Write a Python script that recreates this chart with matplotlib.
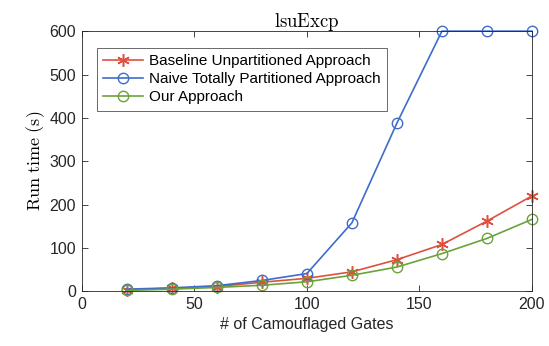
import matplotlib
matplotlib.use("Agg")
import matplotlib.pyplot as plt

gates = [20, 40, 60, 80, 100, 120, 140, 160, 180, 200]
baseline = [4, 7, 11, 21, 30, 45, 73, 108, 162, 220]
naive = [5, 8, 13, 25, 41, 158, 388, 600, 600, 600]
ours = [2, 5, 9, 14, 22, 37, 56, 87, 122, 166]

series_names = ["Baseline Unpartitioned Approach",
                "Naive Totally Partitioned Approach",
                "Our Approach"]

plt.rcParams['font.family'] = ['Liberation Sans', 'DejaVu Sans']
plt.rcParams['mathtext.fontset'] = 'cm'

fig = plt.figure(figsize=(5.49, 3.46), dpi=100)
ax = fig.add_axes([0.149, 0.158, 0.820, 0.752])

red = '#DE5141'
blue = '#3E6CCB'
green = '#6CA23A'

ax.plot(gates, baseline, color=red, marker=(6, 2, 0), markersize=9, linewidth=1.2,
        markeredgewidth=1.1, label=series_names[0], clip_on=False)
ax.plot(gates, naive, color=blue, marker='o', markersize=7.5, linewidth=1.2,
        markerfacecolor='none', markeredgewidth=1.0, label=series_names[1], clip_on=False)
ax.plot(gates, ours, color=green, marker='o', markersize=7.5, linewidth=1.2,
        markerfacecolor='none', markeredgewidth=1.0, label=series_names[2], clip_on=False)

ax.set_xlim(0, 200)
ax.set_ylim(0, 600)
ax.set_xticks([0, 50, 100, 150, 200])
ax.set_yticks([0, 100, 200, 300, 400, 500, 600])
ax.tick_params(direction='in', top=True, right=True, labelsize=11.5, length=4,
               width=0.6, colors='#262626', pad=4)
for s in ax.spines.values():
    s.set_linewidth(0.6)
    s.set_color('#262626')

ax.set_title(r'$\mathrm{lsuExcp}$', fontsize=13.5, pad=3)
ax.set_ylabel(r'$\mathrm{Run\ time\ (s)}$', fontsize=13, labelpad=2)
ax.set_xlabel('# of Camouflaged Gates', fontsize=11.5, color='#262626', labelpad=4)

leg = ax.legend(loc='upper left', bbox_to_anchor=(0.033, 0.935), fontsize=11,
                frameon=True, fancybox=False, edgecolor='#262626',
                borderpad=0.42, handlelength=2.6, handletextpad=0.4,
                labelspacing=0.26, borderaxespad=0)
leg.get_frame().set_linewidth(0.6)

fig.savefig('out.png', dpi=100)
